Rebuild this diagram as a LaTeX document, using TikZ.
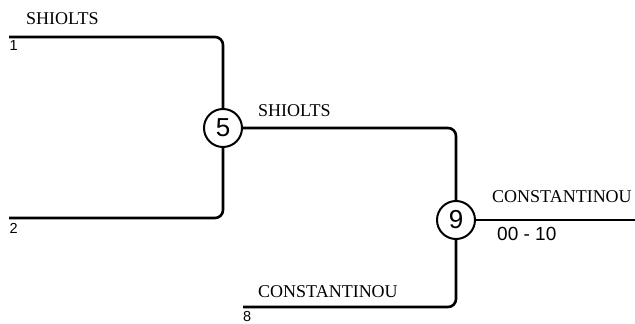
\documentclass[tikz,border=0pt]{standalone}
\usepackage{fontspec}
\setmainfont{Liberation Serif}
\newfontfamily\arialf{Liberation Sans}
\begin{document}
\begin{tikzpicture}[x=1pt,y=-1pt,
  wire/.style={line width=2.6pt,rounded corners=8pt},
  round/.style={circle,draw,line width=2pt,minimum size=38pt,inner sep=0pt,font=\arialf\fontsize{26}{26}\selectfont},
  team/.style={anchor=base west,inner sep=0pt,font=\fontsize{18}{18}\selectfont},
  seed/.style={anchor=base west,inner sep=0pt,font=\arialf\fontsize{14.5}{15}\selectfont},
  score/.style={anchor=base west,inner sep=0pt,font=\arialf\fontsize{19}{19}\selectfont}]
\useasboundingbox (0,0) rectangle (635,324);
\node[round] (c5) at (223,128) {5};
\node[round] (c9) at (456,220) {9};
\coordinate (s1) at (9,37);
\coordinate (s2) at (9,218);
\coordinate (s8) at (243,307);
\coordinate (out) at (635,220);
\draw[wire] (s1) -| (c5);
\draw[wire] (s2) -| (c5);
\draw[wire] (c5) -| (c9);
\draw[wire] (s8) -| (c9);
\draw[wire] (c9) -- (out);
\node[team] (t1) at (26,24) {SHIOLTS};
\node[seed] (n1) at (9.5,50) {1};
\node[seed] (n2) at (9.5,233) {2};
\node[team] (t5) at (258,116) {SHIOLTS};
\node[team] (t9) at (492,202) {CONSTANTINOU};
\node[score] (sc) at (497,240) {00 - 10};
\node[team] (t8) at (258,297) {CONSTANTINOU};
\node[seed] (n8) at (243,321.5) {8};
\end{tikzpicture}
\end{document}
